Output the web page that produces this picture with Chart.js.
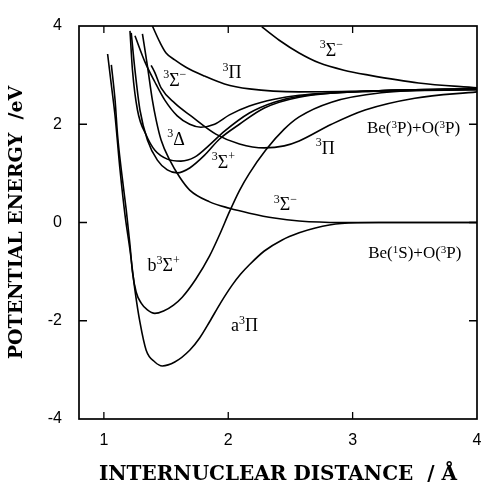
<!DOCTYPE html>
<html><head><meta charset="utf-8">
<script src="https://cdn.jsdelivr.net/npm/chart.js@4.4.1/dist/chart.umd.min.js"></script>
<style>html,body{margin:0;padding:0;background:#fff;}</style>
</head><body>
<canvas id="c" width="485" height="485"></canvas>
<script>
// ---- data (Å, eV) ----
const aPiX = [1.03,1.06,1.09,1.13,1.17,1.21,1.25,1.29,1.34,1.41,1.47,1.57,1.69,1.77,1.85,1.94,2.03,2.10,2.17,2.29,2.43,2.57,2.70,2.91,3.21,4.0];
const aPiY = [3.43,2.80,2.17,1.07,0.15,-0.56,-1.38,-2.03,-2.60,-2.84,-2.92,-2.84,-2.60,-2.35,-2.02,-1.63,-1.28,-1.05,-0.86,-0.58,-0.36,-0.21,-0.11,-0.02,0,0];

const bSigX = [1.06,1.09,1.11,1.14,1.18,1.21,1.23,1.26,1.30,1.35,1.41,1.48,1.56,1.63,1.74,1.85,1.93,2.01,2.09,2.17,2.30,2.45,2.57,2.83,3.23,4.0];
const bSigY = [3.21,2.49,1.78,1.07,0.25,-0.46,-1.01,-1.42,-1.64,-1.78,-1.85,-1.80,-1.68,-1.52,-1.15,-0.68,-0.25,0.22,0.65,1.00,1.47,1.90,2.15,2.45,2.64,2.72];

const sigLowX = [1.31,1.35,1.39,1.42,1.46,1.53,1.61,1.69,1.85,2.01,2.17,2.37,2.57,2.91,4.0];
const sigLowY = [3.84,3.19,2.49,2.09,1.68,1.27,0.92,0.66,0.42,0.29,0.19,0.09,0.03,0,0];

const deltaX = [1.21,1.23,1.27,1.34,1.41,1.51,1.62,1.73,1.85,1.97,2.17,2.37,2.57,3.21,4.0];
const deltaY = [3.90,3.10,2.29,1.78,1.47,1.29,1.25,1.33,1.58,1.86,2.23,2.45,2.57,2.68,2.72];

const sigPlusX = [1.22,1.25,1.29,1.35,1.43,1.51,1.59,1.69,1.81,1.93,2.09,2.29,2.57,3.21,4.0];
const sigPlusY = [3.86,3.10,2.29,1.68,1.27,1.07,1.01,1.11,1.37,1.70,2.00,2.33,2.55,2.68,2.72];

const sigMidX = [1.25,1.33,1.41,1.49,1.59,1.69,1.78,1.89,2.01,2.17,2.37,2.57,3.21,4.0];
const sigMidY = [3.80,3.27,2.86,2.49,2.17,2.00,1.94,2.00,2.19,2.37,2.51,2.59,2.68,2.72];

const piLowX = [1.38,1.41,1.46,1.57,1.70,1.90,2.09,2.29,2.45,2.57,2.83,3.10,3.50,4.0];
const piLowY = [3.20,3.05,2.74,2.43,2.17,1.80,1.60,1.52,1.56,1.66,2.00,2.29,2.53,2.66];

const piUpX = [1.39,1.45,1.50,1.57,1.66,1.81,1.97,2.17,2.57,3.21,4.0];
const piUpY = [4.00,3.67,3.45,3.31,3.16,2.98,2.82,2.72,2.66,2.68,2.70];

const sigTopX = [2.27,2.41,2.57,2.73,2.93,3.13,3.53,4.0];
const sigTopY = [3.98,3.71,3.45,3.25,3.10,3.00,2.84,2.74];

const xTickValues = [1,2,3,4];
const yTickValues = [-4,-2,0,2,4];
const xAxisTitle = 'INTERNUCLEAR DISTANCE  / Å';
const yAxisTitle = 'POTENTIAL ENERGY  /eV';

// state labels ('^' marks next char as superscript)
const labelTexts = ['^3Σ^−','^3Π','^3Σ^−','^3Δ','^3Σ^+','^3Π','Be(^3P)+O(^3P)','^3Σ^−','Be(^1S)+O(^3P)','b^3Σ^+','a^3Π'];
const labelXs    = [2.83, 2.03, 1.57, 1.58, 1.96, 2.78, 3.49, 2.46, 3.50, 1.48, 2.13];
const labelYs    = [3.51, 3.06, 2.90, 1.70, 1.23, 1.52, 1.94, 0.37, -0.60, -0.87, -2.09];

// ---- build ----
const curves = [[aPiX,aPiY],[bSigX,bSigY],[sigLowX,sigLowY],[deltaX,deltaY],[sigPlusX,sigPlusY],[sigMidX,sigMidY],[piLowX,piLowY],[piUpX,piUpY],[sigTopX,sigTopY]];
const datasets = curves.map(([xs,ys]) => ({
  data: xs.map((x,i)=>({x:x, y:ys[i]})),
  borderColor:'#000', borderWidth:1.6, pointRadius:0, fill:false,
  cubicInterpolationMode:'monotone'
}));

function drawRich(ctx, str, cx, cy, isAsym){
  const base = isAsym ? 17 : 18, sup = isAsym ? 11 : 12;
  const parts = [];
  for (let i=0;i<str.length;i++){
    if (str[i]==='^'){ parts.push({t:str[i+1], s:true}); i++; }
    else parts.push({t:str[i], s:false});
  }
  const fBase = base+'px "Liberation Serif"', fSup = sup+'px "Liberation Serif"';
  let w = 0;
  parts.forEach(p=>{ ctx.font = p.s?fSup:fBase; p.w = ctx.measureText(p.t).width; w += p.w; });
  let x = cx - w/2;
  ctx.textBaseline = 'alphabetic'; ctx.textAlign='left'; ctx.fillStyle='#000';
  const baseY = cy + base*0.33;
  parts.forEach(p=>{
    ctx.font = p.s?fSup:fBase;
    ctx.fillText(p.t, x, p.s ? baseY - (isAsym? base*0.28 : base*0.42) : baseY);
    x += p.w;
  });
}

const annot = {
  id:'annot',
  afterDatasetsDraw(chart){
    const {ctx, scales:{x,y}} = chart;
    ctx.save();
    labelTexts.forEach((t,i)=>{
      drawRich(ctx, t, x.getPixelForValue(labelXs[i]), y.getPixelForValue(labelYs[i]), t.startsWith('Be'));
    });
    ctx.restore();
  }
};

const frameTicks = {
  id:'frameTicks',
  afterDatasetsDraw(chart){
    const {ctx, chartArea:a, scales:{x,y}} = chart;
    ctx.save();
    ctx.strokeStyle='#000'; ctx.lineWidth=1.7;
    ctx.strokeRect(a.left, a.top, a.right-a.left, a.bottom-a.top);
    ctx.lineWidth=1.3;
    ctx.beginPath();
    xTickValues.forEach(v=>{
      const p = x.getPixelForValue(v);
      if (p > a.left+2 && p < a.right-2){
        ctx.moveTo(p,a.bottom); ctx.lineTo(p,a.bottom-7);
        ctx.moveTo(p,a.top); ctx.lineTo(p,a.top+7);
      }
    });
    yTickValues.forEach(v=>{
      const p = y.getPixelForValue(v);
      if (p > a.top+2 && p < a.bottom-2){
        ctx.moveTo(a.left,p); ctx.lineTo(a.left+8,p);
        ctx.moveTo(a.right,p); ctx.lineTo(a.right-8,p);
      }
    });
    ctx.stroke();
    ctx.restore();
  }
};

new Chart(document.getElementById('c'), {
  type:'line',
  data:{datasets},
  plugins:[annot, frameTicks],
  options:{
    responsive:false, animation:false, devicePixelRatio:1,
    layout:{padding:{top:26,right:8,bottom:0,left:0}},
    plugins:{legend:{display:false}, tooltip:{enabled:false}},
    scales:{
      x:{
        type:'linear', min:0.8, max:4,
        afterBuildTicks:s=>{ s.ticks = xTickValues.map(v=>({value:v})); },
        afterFit:s=>{ s.height = 66; s.paddingLeft=0; s.paddingRight=0; },
        ticks:{color:'#000', padding:12, font:{family:'"Liberation Sans"', size:16}, maxRotation:0, autoSkip:false, callback:v=>String(v)},
        grid:{display:false, drawTicks:false},
        border:{display:false},
        title:{display:true, text:xAxisTitle, color:'#000', font:{family:'"DejaVu Serif"', weight:'bold', size:20, lineHeight:1}, padding:{top:0,bottom:0}}
      },
      y:{
        type:'linear', min:-4, max:4,
        afterBuildTicks:s=>{ s.ticks = yTickValues.map(v=>({value:v})); },
        afterFit:s=>{ s.width = 79; s.paddingTop=0; s.paddingBottom=0; },
        ticks:{color:'#000', padding:17, font:{family:'"Liberation Sans"', size:16}, autoSkip:false, callback:v=>String(v)},
        grid:{display:false, drawTicks:false},
        border:{display:false},
        title:{display:true, text:yAxisTitle, color:'#000', font:{family:'"DejaVu Serif"', weight:'bold', size:19, lineHeight:1}, padding:{top:8,bottom:0}}
      }
    }
  }
});
</script>
</body></html>
